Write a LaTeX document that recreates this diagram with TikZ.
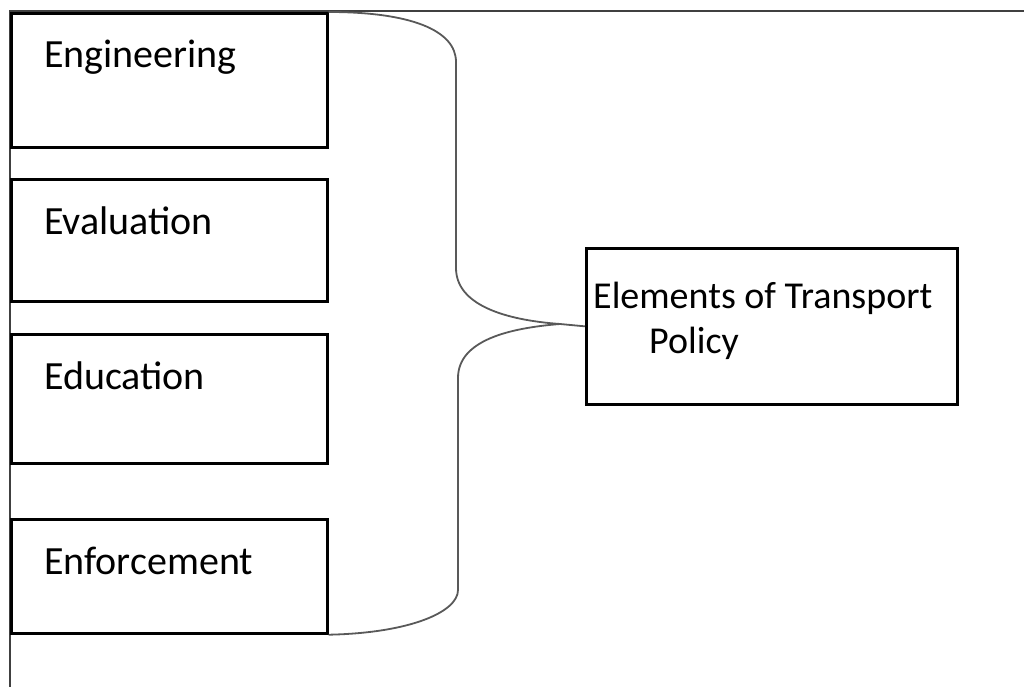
\documentclass[tikz,border=0pt]{standalone}
\usepackage{fontspec}
\setmainfont{Carlito}

\begin{document}
\begin{tikzpicture}[x=1pt, y=-1pt,
	box/.style = {draw, line width=2.7pt, inner sep=0pt, anchor=north west},
	lbl/.style = {inner sep=0pt, anchor=base west, font=\fontsize{40}{48}\selectfont},
	brace/.style = {draw=black!65, line width=1.8pt},
	frame/.style = {draw=black!75, line width=1.6pt}]
	\useasboundingbox (0,0) rectangle (1024,687);
	% page edges
	\draw[frame] (10,687) -- (10,11) -- (1024,11);
	% the four elements
	\foreach \name/\top/\bot/\txt in {eng/12/146/Engineering, eva/178/300/Evaluation, edu/333/462/Education, enf/518/632/Enforcement} {
		\pgfmathsetmacro{\h}{\bot-\top};
		\node[box, minimum width=316pt, minimum height=\h pt] (\name) at (10,\top) {};
		\node[lbl] (\name-t) at (44,\top+56) {\txt};
	}
	% policy box
	\node[box, minimum width=371pt, minimum height=156pt] (pol) at (585,247) {};
	\node[lbl, font=\fontsize{38}{46}\selectfont] (pol-a) at (593,308) {Elements of Transport};
	\node[lbl, font=\fontsize{38}{46}\selectfont] (pol-b) at (649,353) {Policy};
	% brace
	\coordinate (tip) at (560,324);
	\draw[brace] (eng.north east) .. controls (410,12) and (456,30) .. (456,62) -- (456,268)
		.. controls (456,305) and (505,320) .. (tip) -- (pol.west);
	\draw[brace] (enf.south east) .. controls (410,633) and (458,612) .. (458,590) -- (458,378)
		.. controls (458,340) and (510,328) .. (tip);
\end{tikzpicture}
\end{document}
